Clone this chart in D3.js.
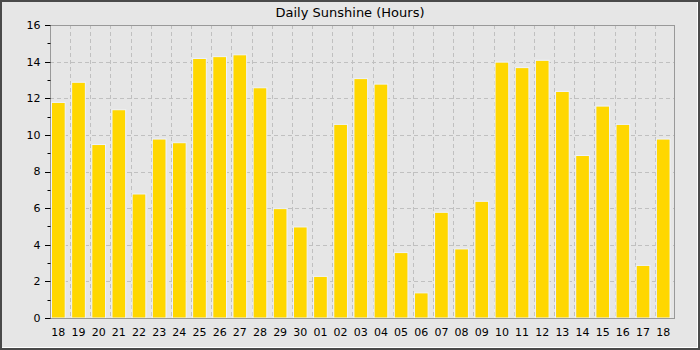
<!DOCTYPE html>
<html><head><meta charset="utf-8">
<script src="https://cdn.jsdelivr.net/npm/d3@7"></script>
<style>html,body{margin:0;padding:0;background:#fff;}svg{display:block;}</style>
</head><body>
<svg id="c" width="700" height="350"></svg>
<script>
const days = ["18","19","20","21","22","23","24","25","26","27","28","29","30","01","02","03","04","05","06","07","08","09","10","11","12","13","14","15","16","17","18"];
const sunshine = [11.8,12.9,9.5,11.4,6.8,9.8,9.6,14.2,14.3,14.4,12.6,6.0,5.0,2.3,10.6,13.1,12.8,3.6,1.4,5.8,3.8,6.4,14.0,13.7,14.1,12.4,8.9,11.6,10.6,2.9,9.8];
const yMajor = [0,2,4,6,8,10,12,14,16];
const yMinor = [1,3,5,7,9,11,13,15];
const title = "Daily Sunshine (Hours)";

const W = 700, H = 350;
const L = 50, R = 675, T = 25, B = 318;
const svg = d3.select("#c");
const font = "DejaVu Sans, sans-serif";

// frame
svg.append("rect").attr("x",0).attr("y",0).attr("width",W).attr("height",H).attr("fill","#4a4a4a");
svg.append("rect").attr("x",2).attr("y",2).attr("width",W-4).attr("height",H-4).attr("fill","#ffffff");
svg.append("rect").attr("x",2).attr("y",2).attr("width",W-5).attr("height",H-5).attr("fill","#e6e6e6");

const idx = d3.range(days.length);
const x = d3.scaleBand().domain(idx).range([L, R]).padding(0);
const y = d3.scaleLinear().domain([0,16]).range([B, T]);
const bw = x.bandwidth();

// grid
const g = svg.append("g");
g.selectAll("line.hg").data(yMajor.filter(v=>v>0 && v<16)).enter().append("line")
  .attr("x1",L).attr("x2",R).attr("y1",d=>Math.round(y(d))+0.5).attr("y2",d=>Math.round(y(d))+0.5)
  .attr("stroke","#c0c0c0").attr("stroke-dasharray","4,3");
g.selectAll("line.vg").data(idx.slice(1)).enter().append("line")
  .attr("x1",d=>Math.round(x(d))+0.5).attr("x2",d=>Math.round(x(d))+0.5).attr("y1",T).attr("y2",B)
  .attr("stroke","#c0c0c0").attr("stroke-dasharray","4,3");

// bars
svg.selectAll("rect.bar").data(sunshine).enter().append("rect")
  .attr("x",(d,i)=>x(i)+1.5).attr("width",bw*0.68)
  .attr("y",d=>y(d)+0.5).attr("height",d=>B-y(d)-0.5)
  .attr("fill","#ffd700").attr("stroke","#eef3ff").attr("stroke-width",1);

// plot frame
svg.append("rect").attr("x",L+0.5).attr("y",T+0.5).attr("width",R-L-1).attr("height",B-T)
  .attr("fill","none").attr("stroke","#999999");

// y axis ticks
const ya = svg.append("g").attr("transform",`translate(${L+0.5},0)`);
ya.selectAll("line.mj").data(yMajor).enter().append("line")
  .attr("x1",-5.5).attr("x2",0).attr("y1",d=>Math.round(y(d))+0.5).attr("y2",d=>Math.round(y(d))+0.5).attr("stroke","#000");
ya.selectAll("line.mn").data(yMinor).enter().append("line")
  .attr("x1",-3).attr("x2",0).attr("y1",d=>Math.round(y(d))+0.5).attr("y2",d=>Math.round(y(d))+0.5).attr("stroke","#000");
ya.selectAll("text").data(yMajor).enter().append("text")
  .attr("x",-10).attr("y",d=>y(d)).attr("dy","0.36em").attr("text-anchor","end")
  .attr("font-family",font).attr("font-size",11).attr("fill","#000").text(d=>d);

// x labels
svg.selectAll("text.xl").data(days).enter().append("text")
  .attr("x",(d,i)=>x(i)+1.5+bw*0.34).attr("y",336).attr("text-anchor","middle")
  .attr("font-family",font).attr("font-size",11).attr("fill","#000").text(d=>d);

// title
svg.append("text").attr("x",350).attr("y",17).attr("text-anchor","middle")
  .attr("font-family",font).attr("font-size",13).attr("fill","#000").text(title);
</script>
</body></html>
